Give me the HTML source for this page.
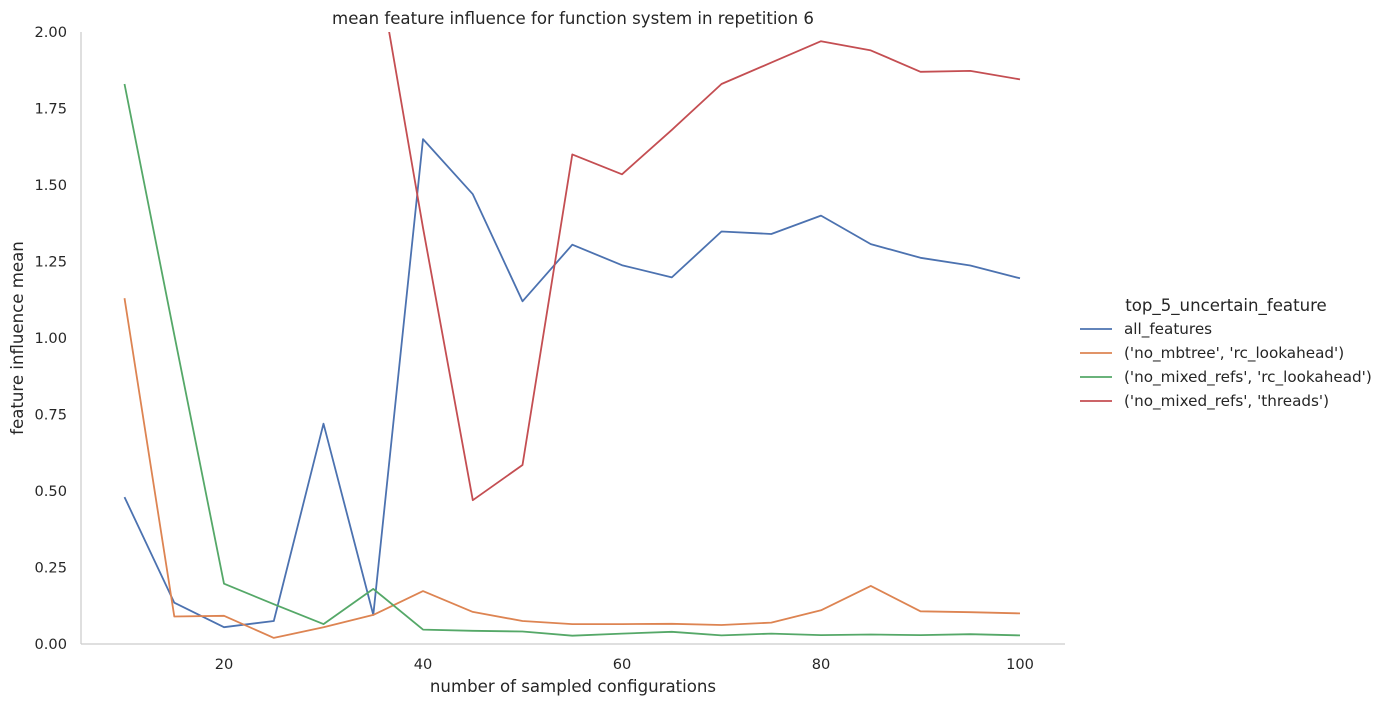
<!DOCTYPE html>
<html><head><meta charset="utf-8"><style>
body{margin:0;background:#fff;font-family:"Liberation Sans","DejaVu Sans",sans-serif;}
svg text{font-family:"DejaVu Sans","Liberation Sans",sans-serif;fill:#262626;}
</style></head><body>
<svg id="chart" width="1386" height="706" viewBox="0 0 1386 706" xmlns="http://www.w3.org/2000/svg">
<defs><clipPath id="plotclip"><rect x="81" y="32" width="984" height="612"/></clipPath></defs>
<text x="573" y="24" font-size="16.6" text-anchor="middle">mean feature influence for function system in repetition 6</text>
<g id="axes"></g>
<g id="lines" clip-path="url(#plotclip)"></g>
<text x="573" y="692" font-size="16.6" text-anchor="middle">number of sampled configurations</text>
<text transform="translate(23,338) rotate(-90)" font-size="16.6" text-anchor="middle">feature influence mean</text>
<g id="legend"></g>
</svg>
<script>
const xValues=[10,15,20,25,30,35,40,45,50,55,60,65,70,75,80,85,90,95,100];
const seriesNames=["all_features","('no_mbtree', 'rc_lookahead')","('no_mixed_refs', 'rc_lookahead')","('no_mixed_refs', 'threads')"];
const allFeatures=[0.48,0.135,0.055,0.075,0.72,0.095,1.65,1.47,1.12,1.305,1.238,1.198,1.348,1.34,1.40,1.307,1.262,1.237,1.195];
const mbtreeLookahead=[1.13,0.09,0.092,0.02,0.055,0.095,0.173,0.105,0.075,0.065,0.065,0.066,0.062,0.07,0.11,0.19,0.107,0.104,0.1];
const mixedRefsLookahead=[1.83,1.01,0.197,0.13,0.065,0.18,0.047,0.043,0.041,0.027,0.034,0.04,0.028,0.034,0.029,0.031,0.029,0.032,0.028];
const mixedRefsThreads=[null,null,null,null,null,2.30,1.36,0.47,0.585,1.60,1.535,1.68,1.83,1.90,1.97,1.94,1.87,1.873,1.845];
const colors=["#4c72b0","#dd8452","#55a868","#c44e52"];
const xTicks=[20,40,60,80,100];
const yTicks=[0,0.25,0.5,0.75,1.0,1.25,1.5,1.75,2.0];
const xs=v=>224+(v-20)*(1020-224)/80;
const ys=v=>644-v*306;
const NS="http://www.w3.org/2000/svg";
function mk(tag,attrs,parent){const e=document.createElementNS(NS,tag);for(const k in attrs)e.setAttribute(k,attrs[k]);parent.appendChild(e);return e;}
const axes=document.getElementById('axes');
let l=mk('line',{x1:81,y1:32,x2:81,y2:644,stroke:'#ccc','stroke-width':1.25},axes);


l=mk('line',{x1:81,y1:644,x2:1065,y2:644,stroke:'#ccc','stroke-width':1.25},axes);


xTicks.forEach(t=>{const e=mk('text',{x:xs(t),y:669,'font-size':14.6,'text-anchor':'middle'},axes);e.textContent=t;

});
yTicks.forEach(t=>{const e=mk('text',{x:67,y:ys(t)+5,'font-size':14.6,'text-anchor':'end'},axes);e.textContent=t.toFixed(2);

});
const data=[allFeatures,mbtreeLookahead,mixedRefsLookahead,mixedRefsThreads];
const lines=document.getElementById('lines');
data.forEach((arr,i)=>{let d='';let pen=false;arr.forEach((v,j)=>{if(v===null){pen=false;return;}d+=(pen?'L':'M')+xs(xValues[j]).toFixed(1)+','+ys(v).toFixed(1);pen=true;});
const p=mk('path',{d:d,fill:'none',stroke:colors[i],'stroke-width':1.8,'stroke-linejoin':'round'},lines);

});
const lg=document.getElementById('legend');
const tt=mk('text',{x:1226,y:311,'font-size':16.6,'text-anchor':'middle'},lg);tt.textContent='top_5_uncertain_feature';


seriesNames.forEach((n,i)=>{const y=329+i*24;
const ln=mk('line',{x1:1080,y1:y,x2:1112,y2:y,stroke:colors[i],'stroke-width':1.8},lg);


const t=mk('text',{x:1124,y:y+5,'font-size':15.2},lg);t.textContent=n;

});
</script>
</body></html>
